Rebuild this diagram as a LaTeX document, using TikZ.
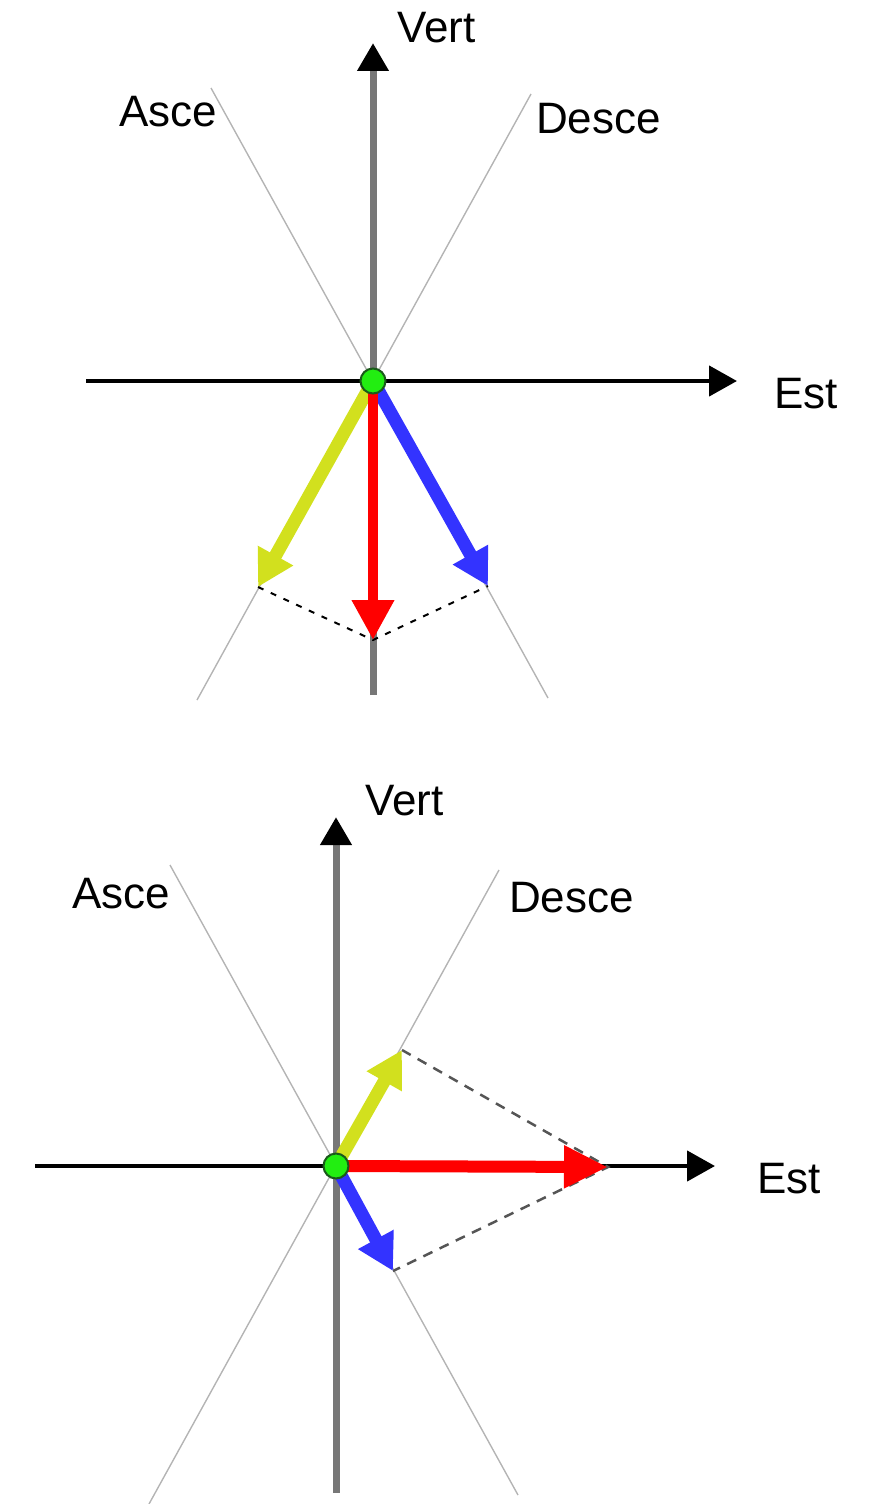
\documentclass[tikz,border=0pt]{standalone}
\usepackage{fontspec}
\setmainfont{Liberation Sans}
\usetikzlibrary{arrows.meta}
\definecolor{axgray}{HTML}{777777}
\definecolor{guidegray}{HTML}{B4B4B4}
\definecolor{ylw}{HTML}{D2E01E}
\definecolor{blu}{HTML}{3333FF}
\definecolor{rd}{HTML}{FF0000}
\definecolor{dotgreen}{HTML}{22EE11}
\definecolor{dotedge}{HTML}{1A5A1A}
\definecolor{dashgray}{HTML}{555555}
\begin{document}
\begin{tikzpicture}[x=1pt,y=-1pt,
  guideline/.style={draw=guidegray, line width=1.4pt},
  vaxis/.style={draw=axgray, line width=7pt, -{Triangle[length=28pt,width=30pt,color=black]}},
  haxis/.style={draw=black, line width=4.5pt, -{Triangle[length=28pt,width=30pt]}},
  vecy/.style={draw=ylw, line width=13pt, -{Triangle[length=36pt,width=38pt]}},
  vecb/.style={draw=blu, line width=13pt, -{Triangle[length=36pt,width=38pt]}},
  vecr/.style={draw=rd, line width=10pt, -{Triangle[length=40pt,width=40pt]}},
  vecrb/.style={draw=rd, line width=12pt, -{Triangle[length=44pt,width=40pt]}},
  projtop/.style={draw=black, line width=2pt, dash pattern=on 6pt off 8pt},
  projbot/.style={draw=dashgray, line width=2.5pt, dash pattern=on 10pt off 8pt},
  lbl/.style={font=\fontsize{44}{50}\selectfont, anchor=base west, inner sep=0pt},
  origindot/.style={circle, fill=dotgreen, draw=dotedge, line width=2pt, minimum size=25pt, inner sep=0pt}]
\useasboundingbox (0,0) rectangle (872,1504);

% ---------- top diagram ----------
\coordinate (O1) at (373,381);
\coordinate (A1t) at (211,88);
\coordinate (A1b) at (548,698);
\coordinate (D1t) at (531,94);
\coordinate (D1b) at (197,700);
\coordinate (V1b) at (373,695);
\coordinate (V1t) at (373,43);
\coordinate (H1l) at (86,381);
\coordinate (H1r) at (737,381);
\coordinate (Y1) at (258,587);
\coordinate (B1) at (488,586);
\coordinate (R1) at (373,640);

\draw[guideline] (A1t) -- (A1b);
\draw[guideline] (D1t) -- (D1b);
\draw[vaxis] (V1b) -- (V1t);
\draw[haxis] (H1l) -- (H1r);
\draw[projtop] (Y1) -- (R1) -- (B1);
\draw[vecy] (O1) -- (Y1);
\draw[vecb] (O1) -- (B1);
\draw[vecr] (O1) -- (R1);
\node[origindot] (dot1) at (O1) {};

\node[lbl] (vert1) at (397,43) {Vert};
\node[lbl] (asce1) at (119,126) {Asce};
\node[lbl] (desce1) at (536,133) {Desce};
\node[lbl] (est1) at (774,408) {Est};

% ---------- bottom diagram ----------
\coordinate (O2) at (336,1166);
\coordinate (A2t) at (170,865);
\coordinate (A2b) at (518,1495);
\coordinate (D2t) at (499,870);
\coordinate (D2b) at (149,1504);
\coordinate (V2b) at (336,1493);
\coordinate (V2t) at (336,817);
\coordinate (H2l) at (35,1166);
\coordinate (H2r) at (715,1166);
\coordinate (Y2) at (402,1050);
\coordinate (B2) at (393,1271);
\coordinate (R2) at (608,1167);

\draw[guideline] (A2t) -- (A2b);
\draw[guideline] (D2t) -- (D2b);
\draw[vaxis] (V2b) -- (V2t);
\draw[haxis] (H2l) -- (H2r);
\draw[projbot] (Y2) -- (R2) -- (B2);
\draw[vecy] (O2) -- (Y2);
\draw[vecb] (O2) -- (B2);
\draw[vecrb] (O2) -- (R2);
\node[origindot] (dot2) at (O2) {};

\node[lbl] (vert2) at (365,815) {Vert};
\node[lbl] (asce2) at (72,908) {Asce};
\node[lbl] (desce2) at (509,912) {Desce};
\node[lbl] (est2) at (757,1193) {Est};
\end{tikzpicture}
\end{document}
